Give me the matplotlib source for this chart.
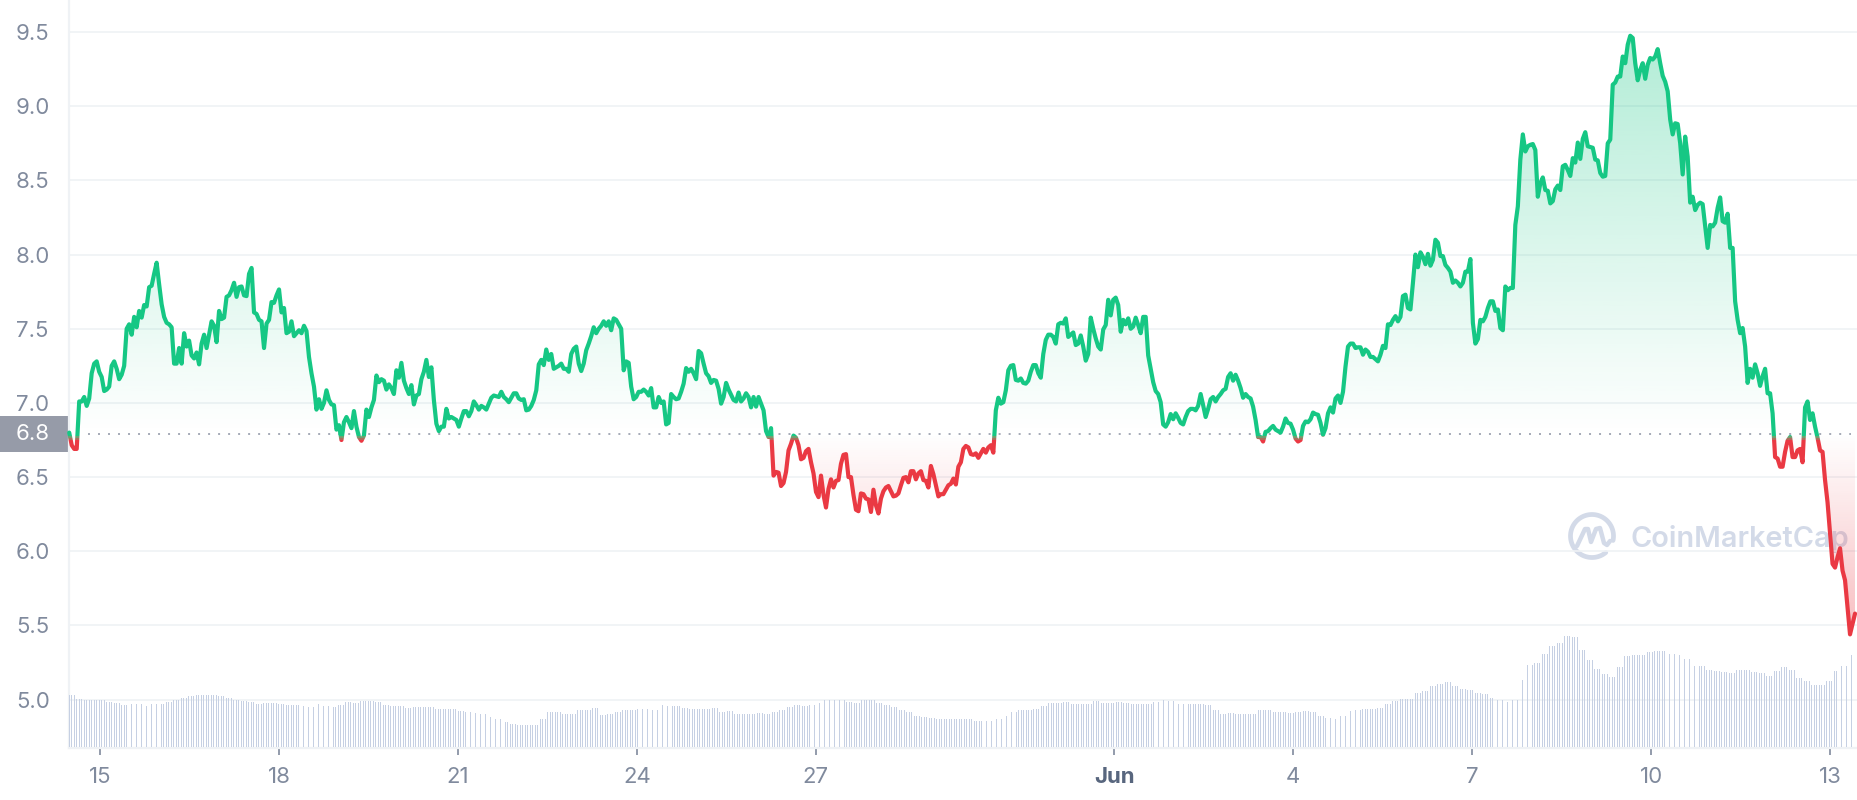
from matplotlib import pyplot as plt
from matplotlib.patches import Rectangle
import numpy as np

plt.rcParams['font.family'] = ['Inter', 'DejaVu Sans']

# hourly prices
price = [6.80, 6.715, 6.69, 6.69, 7.01, 7.01, 7.04, 6.98, 7.03, 7.20, 7.265, 7.28, 7.21, 7.175, 7.08, 7.09, 7.11, 7.25,
         7.28, 7.23, 7.16, 7.19, 7.25, 7.50, 7.53, 7.46, 7.58, 7.51, 7.62, 7.575, 7.66, 7.65, 7.78, 7.79, 7.87, 7.945,
         7.80, 7.665, 7.58, 7.54, 7.53, 7.51, 7.265, 7.265, 7.37, 7.265, 7.47, 7.38, 7.42, 7.32, 7.30, 7.34, 7.26, 7.40,
         7.46, 7.37, 7.46, 7.55, 7.52, 7.41, 7.62, 7.565, 7.575, 7.715, 7.725, 7.76, 7.81, 7.715, 7.78, 7.785, 7.725,
         7.72, 7.87, 7.91, 7.61, 7.60, 7.56, 7.55, 7.37, 7.535, 7.56, 7.68, 7.675, 7.725, 7.765, 7.61, 7.64, 7.47, 7.48,
         7.55, 7.45, 7.47, 7.49, 7.47, 7.52, 7.485, 7.31, 7.20, 7.11, 6.955, 7.025, 6.96, 7.00, 7.085, 7.02, 6.99, 6.985,
         6.82, 6.85, 6.75, 6.87, 6.905, 6.87, 6.83, 6.945, 6.84, 6.77, 6.745, 6.78, 6.955, 6.905, 6.97, 7.02, 7.185, 7.14,
         7.16, 7.15, 7.09, 7.125, 7.10, 7.06, 7.22, 7.17, 7.27, 7.15, 7.10, 7.06, 7.12, 6.99, 7.05, 7.06, 7.16, 7.21, 7.29,
         7.175, 7.24, 7.02, 6.86, 6.81, 6.84, 6.84, 6.96, 6.895, 6.905, 6.895, 6.885, 6.84, 6.895, 6.945, 6.945, 6.91,
         6.945, 7.01, 6.985, 6.955, 6.98, 6.97, 6.955, 6.995, 7.035, 7.05, 7.045, 7.04, 7.075, 7.04, 7.025, 7.005, 7.035,
         7.065, 7.065, 7.03, 7.02, 7.025, 6.95, 6.955, 6.98, 7.02, 7.085, 7.26, 7.29, 7.255, 7.36, 7.29, 7.33, 7.23, 7.24,
         7.25, 7.265, 7.23, 7.23, 7.21, 7.33, 7.365, 7.38, 7.265, 7.215, 7.265, 7.355, 7.40, 7.45, 7.51, 7.47, 7.50, 7.52,
         7.55, 7.52, 7.55, 7.49, 7.57, 7.56,
         7.53, 7.50, 7.22, 7.28, 7.27, 7.11, 7.025, 7.04, 7.075, 7.075, 7.09, 7.075, 7.05, 7.10, 6.97, 6.97, 7.04, 7.00,
         7.01, 6.855, 6.865, 7.06, 7.04, 7.025, 7.03, 7.075, 7.13, 7.235, 7.21, 7.23, 7.20, 7.16, 7.35, 7.335, 7.265, 7.20,
         7.18, 7.135, 7.155, 7.15, 7.095, 6.995, 7.04, 7.135, 7.09, 7.055, 7.02, 7.01, 7.07, 7.01, 7.03, 7.065, 7.04, 6.97,
         7.04, 6.975, 7.04, 6.995, 6.95, 6.81, 6.77, 6.83, 6.51, 6.535, 6.53, 6.44, 6.46, 6.535, 6.68, 6.725, 6.78, 6.765,
         6.715, 6.62, 6.63, 6.675, 6.69, 6.60, 6.525, 6.40, 6.365, 6.51, 6.38, 6.295, 6.42, 6.485, 6.43, 6.475, 6.48, 6.59,
         6.65, 6.655, 6.50, 6.50, 6.38, 6.28, 6.27, 6.39, 6.385, 6.355, 6.35, 6.265, 6.415, 6.31, 6.255, 6.355, 6.405, 6.43,
         6.44, 6.405, 6.37, 6.375, 6.39, 6.445, 6.495, 6.50, 6.465, 6.54, 6.54, 6.485, 6.525, 6.54, 6.48, 6.475, 6.43, 6.575,
         6.52, 6.445, 6.37, 6.385, 6.385, 6.415, 6.445, 6.455, 6.49, 6.45, 6.57, 6.60, 6.69, 6.71, 6.70, 6.655, 6.65, 6.66,
         6.63, 6.66, 6.69, 6.665, 6.70, 6.715, 6.665, 6.95, 7.035, 6.995, 7.005, 7.085, 7.22, 7.25, 7.255, 7.155, 7.15,
         7.165, 7.135, 7.13, 7.15, 7.21, 7.255, 7.255, 7.20, 7.17, 7.33, 7.425, 7.46, 7.46, 7.445, 7.40, 7.53, 7.54, 7.535,
         7.57, 7.445, 7.46, 7.475, 7.39, 7.40, 7.455, 7.38, 7.285, 7.33, 7.575, 7.50, 7.435, 7.38, 7.36, 7.495, 7.525, 7.695,
         7.59, 7.695, 7.71, 7.66, 7.48, 7.56, 7.53, 7.57, 7.50, 7.515, 7.575, 7.525, 7.47, 7.58, 7.58, 7.32, 7.23, 7.14,
         7.08, 7.06, 7.005, 6.855, 6.84, 6.87, 6.925, 6.89, 6.93, 6.90, 6.865, 6.855, 6.905, 6.945, 6.96, 6.96, 6.95, 6.98,
         7.06, 6.985, 6.905, 6.96, 7.025, 7.04, 7.01, 7.04, 7.06, 7.085, 7.095, 7.175, 7.20, 7.15, 7.19, 7.15,
         7.10, 7.035, 7.06, 7.04, 7.03, 6.975, 6.885, 6.77, 6.77, 6.74, 6.805, 6.81, 6.83, 6.845, 6.82, 6.81, 6.80, 6.84,
         6.895, 6.865, 6.86, 6.82, 6.76, 6.74, 6.75, 6.845, 6.875, 6.87, 6.89, 6.935, 6.925, 6.92, 6.865, 6.785, 6.83, 6.93,
         6.97, 6.935, 7.03, 7.05, 7.00, 7.075, 7.245, 7.38, 7.40, 7.40, 7.37, 7.375, 7.375, 7.325, 7.36, 7.345, 7.31, 7.31,
         7.295, 7.28, 7.325, 7.385, 7.37, 7.53, 7.525, 7.56, 7.585, 7.55, 7.58,
         7.72, 7.73, 7.64, 7.63, 7.81, 8.00, 7.915, 8.015, 7.985, 7.935, 8.005, 7.925, 7.965, 8.10, 8.08, 7.99, 7.99, 7.93,
         7.91, 7.885, 7.81, 7.825, 7.81, 7.785, 7.81, 7.885, 7.885, 7.97, 7.54, 7.40, 7.43, 7.56, 7.55, 7.58, 7.64, 7.685,
         7.685, 7.62, 7.63, 7.505, 7.49, 7.785, 7.76, 7.775, 7.775, 8.20, 8.325, 8.64, 8.81, 8.695, 8.73, 8.74, 8.745, 8.705,
         8.39, 8.48, 8.52, 8.435, 8.43, 8.345, 8.36, 8.44, 8.465, 8.435, 8.595, 8.605, 8.57, 8.53, 8.65, 8.62, 8.755, 8.645,
         8.78, 8.825, 8.73, 8.725, 8.72, 8.64, 8.635, 8.55, 8.525, 8.53, 8.75, 8.775, 9.145, 9.16, 9.20, 9.20, 9.335, 9.29,
         9.415, 9.475, 9.46, 9.29, 9.175, 9.245, 9.29, 9.185, 9.28, 9.325, 9.315, 9.335, 9.385, 9.29, 9.205, 9.165, 9.10,
         8.91, 8.81, 8.885, 8.88, 8.75, 8.54, 8.795, 8.66, 8.35, 8.39, 8.30, 8.335, 8.35, 8.34, 8.19, 8.045, 8.20, 8.19,
         8.215, 8.315, 8.385, 8.225, 8.215, 8.275, 8.045, 8.045, 7.685, 7.56, 7.47, 7.505, 7.38, 7.135, 7.23, 7.17, 7.26,
         7.20, 7.115, 7.18, 7.23, 7.065, 7.065,
         6.93, 6.635, 6.625, 6.57, 6.57, 6.67, 6.745, 6.77, 6.635, 6.635, 6.68, 6.69, 6.60, 6.97, 7.01, 6.885, 6.93, 6.84,
         6.765, 6.68, 6.67, 6.48, 6.33, 6.12, 5.915, 5.89, 5.96, 6.02, 5.87, 5.805, 5.625, 5.44, 5.51, 5.58]

# volume bars, one reading per three hours (relative units, no scale on the chart)
volume_3h = [52, 48, 47, 47, 47, 45, 44, 42, 43, 43, 41, 43, 43, 45, 47, 49, 51, 52, 52, 52, 51, 49, 47, 46, 45, 43, 44,
             44, 43, 42, 42, 41, 40, 43, 41, 40, 42, 45, 44, 46, 46, 45, 42, 41, 41, 39, 40, 40, 40, 38, 38, 38, 36, 35,
             34, 33, 30, 28, 25, 23, 22, 22, 22, 28, 35, 35, 33, 33, 37,
             37, 39, 32, 33, 35, 37, 37, 38, 38, 37, 42, 41, 41, 39, 38, 38, 38, 39, 35, 36, 33, 33, 33, 34, 33, 35, 37,
             40, 42, 41, 42, 44, 47, 47, 47, 45, 44, 47, 47, 44, 42, 40, 37, 35, 31, 30, 29, 28, 28, 28, 28, 28, 26, 26,
             26, 28, 31, 35, 37, 37, 38, 41, 44, 44, 45, 43, 43, 43, 46,
             44, 44, 45, 44, 43, 43, 43, 45, 47, 46, 43, 43, 43, 43, 42, 37, 33, 34, 33, 33, 33, 37, 37, 35, 35, 34, 35,
             36, 35, 31, 29, 28, 31, 36, 37, 38, 38, 39, 43, 46, 48, 48, 54, 56, 61, 63, 65, 61, 58, 57, 54, 53, 49, 47,
             45, 47, 67, 82, 84, 93, 101, 104, 111, 110, 97, 87, 78, 73, 70, 80,
             91, 92, 92, 95, 96, 96, 93, 92, 88, 81, 81, 77, 76, 75, 74, 77, 77, 75, 74, 71, 76, 80, 77, 69, 66, 62, 62,
             66, 76, 81, 92]

baseline = 6.79
baseline_label = '6.8'
y_ticks = [5.0, 5.5, 6.0, 6.5, 7.0, 7.5, 8.0, 8.5, 9.0, 9.5]
# days after 15 May
x_ticks = [0, 3, 6, 9, 12, 17, 20, 23, 26, 29]
x_labels = ['15', '18', '21', '24', '27', 'Jun', '4', '7', '10', '13']

GREEN = '#16c784'
RED = '#ea3943'
GRID = '#eff2f5'
TICK = '#808a9d'
BAR = '#c6d0e3'
MARK = '#d3dae8'
LABEL_SIZE = 16

price = np.array(price)
volume = np.repeat(volume_3h, 3)
days = np.linspace(-0.516, 29.417, len(price))
volume_days = np.linspace(-0.516, 29.40, len(volume))

fig = plt.figure(figsize=(18.58, 8), dpi=100)

# overlay in pixels for the baseline box and the watermark
bg = fig.add_axes([0, 0, 1, 1], zorder=0)
bg.set_xlim(0, 1858)
bg.set_ylim(800, 0)
bg.axis('off')
bg.add_patch(Rectangle((0, 416), 68, 36, color='#969ba8', lw=0))
bg.text(16, 434.5, baseline_label, color='white', fontsize=LABEL_SIZE, va='center', ha='left')

t = np.radians(np.linspace(50, 372, 80))
bg.plot(1592 + 21.5 * np.cos(t), 536 + 21.5 * np.sin(t), color=MARK, lw=3.4, solid_capstyle='round')
bg.plot([1577, 1585, 1588, 1591, 1596, 1600, 1604, 1607, 1610], [546, 529, 529, 542, 529, 528, 543, 545, 541],
        color=MARK, lw=3.2, solid_capstyle='round', solid_joinstyle='round')
bg.text(1631, 539, 'CoinMarketCap', color=MARK, fontsize=20.8, fontweight='semibold', va='center', ha='left')

ax = fig.add_axes([68.5 / 1858, 52 / 800, 1 - 68.5 / 1858, 748 / 800], zorder=1)
ax.patch.set_alpha(0)
ax.set_xlim(-0.528, 29.467)
ax.set_ylim(4.674, 9.716)

ax.set_yticks(y_ticks)
ax.set_yticklabels([f'{v:.1f}' for v in y_ticks])
ax.set_xticks(x_ticks)
ax.set_xticklabels(x_labels)
ax.grid(axis='y', color=GRID, lw=1.2)
ax.set_axisbelow(True)
ax.tick_params(axis='y', length=0, pad=37.8, labelsize=LABEL_SIZE, labelcolor=TICK)
ax.tick_params(axis='x', length=5, width=1.2, color=TICK, pad=8.5, labelsize=LABEL_SIZE, labelcolor=TICK)
for label in ax.get_yticklabels():
    label.set_ha('left')
jun = ax.get_xticklabels()[5]
jun.set_fontweight('bold')
jun.set_color('#58667e')

for side in ['top', 'right']:
    ax.spines[side].set_visible(False)
for side in ['left', 'bottom']:
    ax.spines[side].set_color(GRID)
    ax.spines[side].set_linewidth(1.6)


def gradient_fill(lower, upper, colour, top_alpha, bottom_alpha):
    poly = ax.fill_between(days, lower, upper, facecolor='none', edgecolor='none')
    rgba = np.zeros((256, 1, 4))
    rgba[..., :3] = plt.matplotlib.colors.to_rgb(colour)
    rgba[..., 3] = np.linspace(top_alpha, bottom_alpha, 256)[:, None]
    top = max(np.max(lower), np.max(upper))
    bottom = min(np.min(lower), np.min(upper))
    im = ax.imshow(rgba, extent=(days[0], days[-1], bottom, top), aspect='auto', origin='upper', zorder=2)
    im.set_clip_path(poly.get_paths()[0], transform=ax.transData)


gradient_fill(np.full_like(price, baseline), np.maximum(price, baseline), GREEN, 0.33, 0.0)
gradient_fill(np.minimum(price, baseline), np.full_like(price, baseline), RED, 0.0, 0.33)
ax.set_xlim(-0.528, 29.467)
ax.set_ylim(4.674, 9.716)

ax.plot([-0.2, 29.35], [baseline, baseline], color='#8d93a3', lw=1.1, ls=(0, (1.3, 5.25)), zorder=3)

# green above the baseline, red under it, with a thin blend between them
bands = [(baseline - 0.01, 10, GREEN), (baseline - 0.025, baseline - 0.01, '#6f9f70'),
         (baseline - 0.04, baseline - 0.025, '#ad6c5c'), (4, baseline - 0.04, RED)]
for low, high, colour in bands:
    line, = ax.plot(days, price, color=colour, lw=3, solid_joinstyle='round', solid_capstyle='round', zorder=4)
    line.set_clip_path(Rectangle((-2, low), 33, high - low, transform=ax.transData))

bars = ax.twinx()
bars.set_ylim(-1.3, 746.7)
bars.bar(volume_days, volume, width=0.015, color=BAR, lw=0)
bars.axis('off')

fig.savefig('out.png', dpi=100, facecolor='white')
